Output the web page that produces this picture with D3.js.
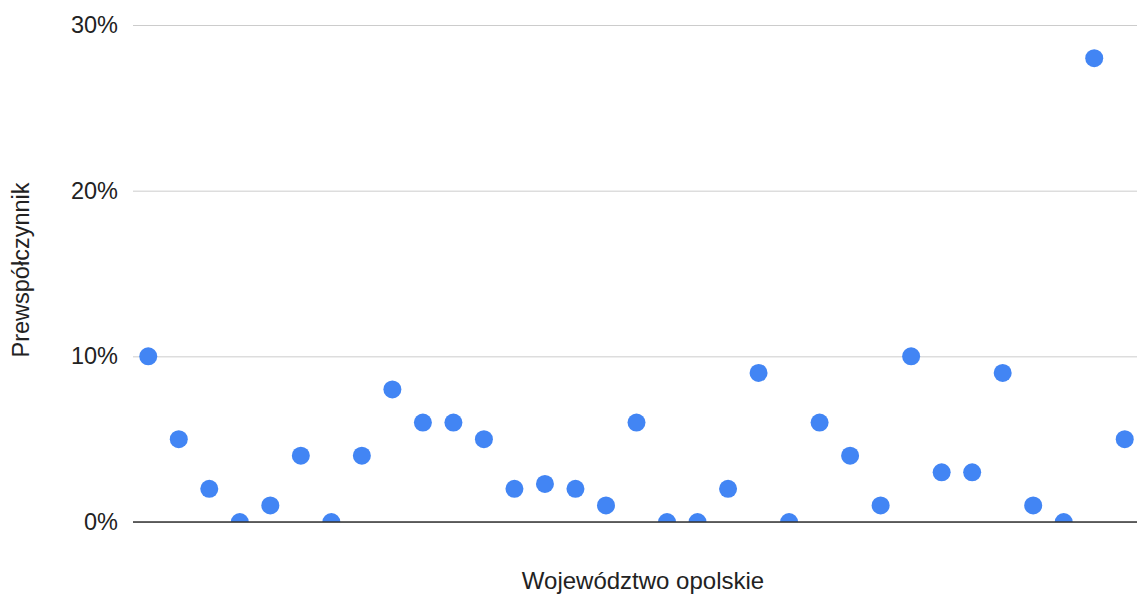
<!DOCTYPE html>
<html><head><meta charset="utf-8">
<script src="https://cdn.jsdelivr.net/npm/d3@7"></script>
<style>body{margin:0;background:#fff;} text{font-family:"Liberation Sans",Arial,sans-serif;}</style>
</head><body>
<svg id="c" width="1137" height="595"></svg>
<script>
const values = [10,5,2,0,1,4,0,4,8,6,6,5,2,2.3,2,1,6,0,0,2,9,0,6,4,1,10,3,3,9,1,0,28,5];
const categories = values.map((d,i)=>"P"+(i+1));
const yTicks = [0,10,20,30];
const xTitle = "Województwo opolskie";
const yTitle = "Prewspółczynnik";

const svg = d3.select("#c");
const m = {left:133, right:1137, top:25, bottom:522};
const x = d3.scalePoint().domain(categories).range([m.left, 1140]).padding(0.5);
const y = d3.scaleLinear().domain([0,30]).range([m.bottom, m.top]);

svg.append("defs").append("clipPath").attr("id","clip")
  .append("rect").attr("x",m.left).attr("y",0).attr("width",m.right-m.left).attr("height",m.bottom);

const ya = svg.append("g").attr("transform",`translate(${m.left},0)`)
  .call(d3.axisLeft(y).tickValues(yTicks).tickFormat(d=>d+"%").tickSize(-(m.right-m.left)).tickPadding(15));
ya.select(".domain").remove();
ya.selectAll(".tick line").attr("stroke","#cccccc").attr("stroke-width",1);
ya.selectAll(".tick text").attr("font-size",23.5).attr("fill","#222").attr("font-family","Liberation Sans, Arial, sans-serif");

svg.append("g").attr("clip-path","url(#clip)")
  .selectAll("circle").data(values).join("circle")
  .attr("cx",(d,i)=>x(categories[i])).attr("cy",d=>y(d)).attr("r",9).attr("fill","#4285f4");

svg.append("line").attr("x1",m.left).attr("x2",m.right).attr("y1",y(0)).attr("y2",y(0))
  .attr("stroke","#333").attr("stroke-width",1.5);

svg.append("text").attr("x",643).attr("y",589).attr("text-anchor","middle")
  .attr("font-size",24).attr("fill","#222").text(xTitle);
svg.append("text").attr("transform","translate(29,270) rotate(-90)").attr("text-anchor","middle")
  .attr("font-size",23.5).attr("fill","#222").text(yTitle);
</script>
</body></html>
